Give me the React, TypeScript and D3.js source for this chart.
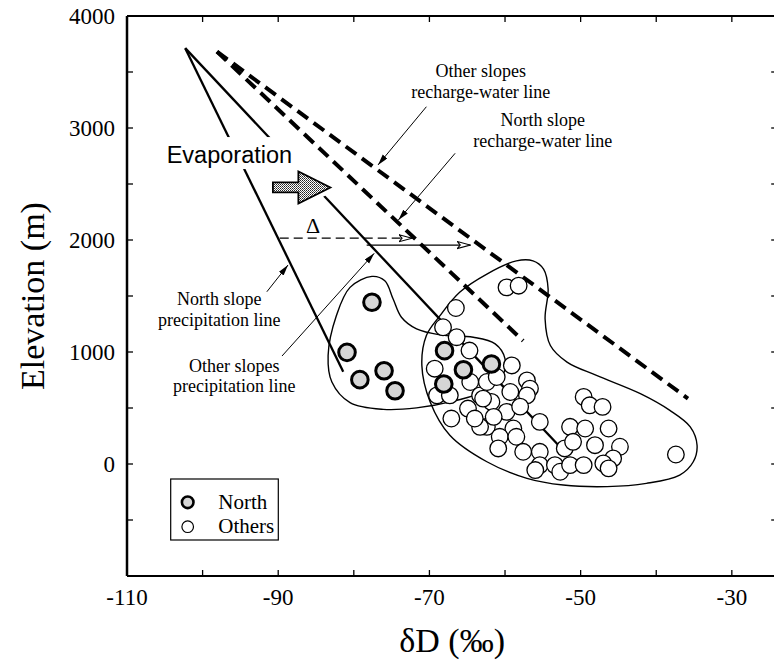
import React from 'react';
import * as d3 from 'd3';

const W = 774;
const H = 661;

// δD (‰), elevation (m)
const northPoints: [number, number][] = [
  [-77.6, 1444], [-80.9, 997], [-79.2, 753], [-76.0, 833], [-74.55, 654],
  [-68.0, 1012], [-65.5, 842], [-68.1, 714], [-61.8, 893],
];

const otherPoints: [number, number][] = [
  [-59.8, 1577], [-58.2, 1592], [-66.5, 1393], [-68.2, 1221], [-66.4, 1132],
  [-64.7, 1013], [-69.3, 851], [-59.1, 880], [-64.6, 732], [-69.0, 613],
  [-67.3, 613], [-63.3, 613], [-62.4, 732], [-61.1, 777], [-59.3, 643],
  [-57.1, 746], [-56.7, 673], [-64.9, 495], [-61.8, 554], [-59.8, 465],
  [-67.1, 406], [-62.4, 332], [-58.9, 317], [-55.4, 376], [-60.7, 243],
  [-58.5, 243], [-60.9, 139], [-57.6, 109], [-55.4, 109], [-55.4, -10],
  [-57.1, 613], [-62.9, 584], [-61.5, 421], [-53.4, -10], [-52.7, -69],
  [-52.1, 139], [-51.4, 332], [-51.0, 198], [-51.4, -10], [-49.6, -10],
  [-49.4, 317], [-48.1, 168], [-46.3, 317], [-49.6, 599], [-48.8, 524],
  [-47.1, 510], [-44.8, 154], [-45.7, 50], [-47.0, 5], [-46.3, -39],
  [-37.4, 85], [-63.3, 332], [-56.0, -54], [-58.0, 512], [-64.0, 406],
];

const northEnvelope: [number, number][] = [
  [-77.6, 1675], [-75.9, 1636], [-74.8, 1473], [-73.7, 1310], [-71.7, 1206],
  [-68.6, 1153], [-64.2, 1132], [-61.3, 1073], [-60.0, 939], [-60.4, 777],
  [-62.4, 657], [-66.4, 568], [-71.7, 501], [-76.1, 488], [-80.5, 548],
  [-82.9, 732], [-83.4, 969], [-82.3, 1325], [-80.5, 1577],
];

const otherEnvelope: [number, number][] = [
  [-58.5, 1814], [-56.3, 1814], [-54.9, 1740], [-54.3, 1562], [-54.7, 1295],
  [-54.0, 1058], [-51.8, 910], [-47.9, 791], [-42.1, 628], [-38.2, 479],
  [-35.5, 332], [-34.6, 168], [-35.1, 20], [-36.9, -99], [-41.3, -173],
  [-46.5, -202], [-52.3, -188], [-57.1, -128], [-62.4, 20], [-67.3, 257],
  [-69.9, 554], [-71.0, 880], [-70.4, 1147], [-68.6, 1325], [-66.0, 1533],
  [-62.4, 1696],
];

const northPrecipLine: [number, number][] = [[-102.3, 3713], [-81.4, 824]];
const otherPrecipLine: [number, number][] = [[-102.3, 3713], [-52.9, 165]];
const northRechargeLine: [number, number][] = [[-98.1, 3682], [-57.6, 1100]];
const otherRechargeLine: [number, number][] = [[-98.1, 3682], [-35.8, 584]];

const deltaDashed: [number, number][] = [[-89.8, 2016], [-72.3, 2016]];
const deltaSolid: [number, number][] = [[-78.3, 1955], [-64.6, 1955]];

const xTicks = [-110, -100, -90, -80, -70, -60, -50, -40, -30];
const xLabels = [-110, -90, -70, -50, -30];
const yTicks = [-1000, -500, 0, 500, 1000, 1500, 2000, 2500, 3000, 3500, 4000];
const yLabels = [0, 1000, 2000, 3000, 4000];

const SERIF = "'Liberation Serif', 'Times New Roman', Times, serif";
const SANS = "'Liberation Sans', Arial, Helvetica, sans-serif";
const serif = { fontFamily: SERIF };
const sans = { fontFamily: SANS };

export default function App() {
  const x = d3.scaleLinear().domain([-110, -24]).range([127, 777.2]);
  const y = d3.scaleLinear().domain([-1000, 4000]).range([576, 16]);
  const x0 = x(-110), x1 = x(-24), yTop = y(4000), yBot = y(-1000);

  const closed = d3
    .line<[number, number]>()
    .x((d) => x(d[0]))
    .y((d) => y(d[1]))
    .curve(d3.curveCatmullRomClosed.alpha(0.5));
  const straight = d3
    .line<[number, number]>()
    .x((d) => x(d[0]))
    .y((d) => y(d[1]));

  // fat arrow
  const ax0 = x(-90.7), ax1 = x(-83.1), ay = y(2469);
  const hx = ax1 - 32;
  const fatArrow = `M${ax0},${ay - 5}L${hx},${ay - 5}L${hx},${ay - 16}L${ax1},${ay}L${hx},${ay + 16}L${hx},${ay + 5}L${ax0},${ay + 5}Z`;

  const leaders: [number, number, number, number][] = [
    [-70.4, 3190, -76.8, 2670],
    [-66.6, 2774, -74.1, 2179],
    [-91.5, 1538, -88.7, 1777],
    [-89.5, 964, -77.3, 1881],
  ];

  const textBlocks: { v: number; e: number; lines: string[] }[] = [
    { v: -63.2, e: 3435, lines: ['Other slopes', 'recharge-water line'] },
    { v: -55.0, e: 2997, lines: ['North slope', 'recharge-water line'] },
    { v: -97.8, e: 1399, lines: ['North slope', 'precipitation line'] },
    { v: -95.8, e: 804, lines: ['Other slopes', 'precipitation line'] },
  ];

  return (
    <svg
      width={W}
      height={H}
      style={{ position: 'absolute', left: 0, top: 0, background: '#fff' }}
    >
      <defs>
        <pattern id="hatch" width="2" height="2" patternUnits="userSpaceOnUse">
          <rect width="2" height="2" fill="#fff" />
          <rect width="1" height="1" fill="#222" />
          <rect x="1" y="1" width="1" height="1" fill="#555" />
        </pattern>
        <marker id="head" markerUnits="userSpaceOnUse" markerWidth="12" markerHeight="8" refX="11" refY="3" orient="auto">
          <path d="M0,0 L11,3 L0,6 Z" fill="#000" />
        </marker>
        <marker id="openhead" markerUnits="userSpaceOnUse" markerWidth="14" markerHeight="10" refX="13" refY="4" orient="auto">
          <path d="M0,0.5 L13,4 L0,7.5 L3,4 Z" fill="#fff" stroke="#000" strokeWidth="1.1" />
        </marker>
      </defs>
      <rect width={W} height={H} fill="#fff" />

      {/* envelopes */}
      <path d={closed(northEnvelope) || ''} fill="none" stroke="#000" strokeWidth={1.4} />
      <path d={closed(otherEnvelope) || ''} fill="none" stroke="#000" strokeWidth={1.4} />

      {/* precipitation lines */}
      <path d={straight(northPrecipLine) || ''} stroke="#000" strokeWidth={2.3} fill="none" />
      <path d={straight(otherPrecipLine) || ''} stroke="#000" strokeWidth={2.3} fill="none" />

      {/* recharge lines */}
      <path d={straight(northRechargeLine) || ''} stroke="#000" strokeWidth={4} strokeDasharray="13 7" fill="none" />
      <path d={straight(otherRechargeLine) || ''} stroke="#000" strokeWidth={4} strokeDasharray="13 7" fill="none" />

      {/* Evaporation label and arrow, masking the lines */}
      <rect x={x(-104.75) - 3} y={y(2687) - 26} width={136} height={32} fill="#fff" />
      <text x={x(-104.75)} y={y(2687)} style={sans} fontSize={23.5} fill="#000">
        Evaporation
      </text>
      <path d={fatArrow} fill="#fff" stroke="#fff" strokeWidth={10} strokeLinejoin="round" />
      <path d={fatArrow} fill="url(#hatch)" stroke="#000" strokeWidth={1.8} strokeLinejoin="miter" />

      {/* Δ arrows */}
      <line
        x1={x(deltaDashed[0][0])} y1={y(deltaDashed[0][1])}
        x2={x(deltaDashed[1][0])} y2={y(deltaDashed[1][1])}
        stroke="#000" strokeWidth={1.3} strokeDasharray="9 5" markerEnd="url(#openhead)"
      />
      <line
        x1={x(deltaSolid[0][0])} y1={y(deltaSolid[0][1])}
        x2={x(deltaSolid[1][0])} y2={y(deltaSolid[1][1])}
        stroke="#000" strokeWidth={1.3} markerEnd="url(#openhead)"
      />
      <text x={x(-85.4)} y={y(2062)} style={serif} fontSize={22} textAnchor="middle">Δ</text>

      {/* leaders */}
      {leaders.map((l, i) => (
        <line key={i} x1={x(l[0])} y1={y(l[1])} x2={x(l[2])} y2={y(l[3])} stroke="#000" strokeWidth={1} markerEnd="url(#head)" />
      ))}

      {/* annotation text */}
      {textBlocks.map((b, i) => (
        <text key={i} x={x(b.v)} y={y(b.e) - 2} style={serif} fontSize={18} textAnchor="middle" fill="#000">
          {b.lines.map((ln, j) => (
            <tspan key={j} x={x(b.v)} dy={j === 0 ? 0 : 20.5}>{ln}</tspan>
          ))}
        </text>
      ))}

      {/* points */}
      {otherPoints.map((p, i) => (
        <circle key={'o' + i} cx={x(p[0])} cy={y(p[1])} r={8.3} fill="#fff" stroke="#000" strokeWidth={1.3} />
      ))}
      {northPoints.map((p, i) => (
        <circle key={'n' + i} cx={x(p[0])} cy={y(p[1])} r={8.3} fill="#d6d6d6" stroke="#000" strokeWidth={3} />
      ))}

      {/* legend */}
      <rect x={170.7} y={479} width={107.6} height={61} fill="#fff" stroke="#000" strokeWidth={1.2} />
      <circle cx={187.7} cy={502.3} r={5.8} fill="#d6d6d6" stroke="#000" strokeWidth={2.6} />
      <circle cx={187.7} cy={526.7} r={5.8} fill="#fff" stroke="#000" strokeWidth={1.2} />
      <text x={218.3} y={509} style={serif} fontSize={21}>North</text>
      <text x={218.3} y={533} style={serif} fontSize={21}>Others</text>

      {/* frame */}
      <line x1={x0} y1={yTop} x2={x0} y2={yBot} stroke="#000" strokeWidth={2.5} />
      <line x1={x0} y1={yBot} x2={x1} y2={yBot} stroke="#000" strokeWidth={2.2} />
      <line x1={x0} y1={yTop} x2={x1} y2={yTop} stroke="#000" strokeWidth={2.2} />
      <line x1={x1} y1={yTop} x2={x1} y2={yBot} stroke="#000" strokeWidth={2.2} />

      {/* ticks */}
      {xTicks.map((t) => (
        <g key={'xt' + t}>
          <line x1={x(t)} x2={x(t)} y1={yBot} y2={yBot - 6} stroke="#000" strokeWidth={1.3} />
          <line x1={x(t)} x2={x(t)} y1={yTop} y2={yTop + 6} stroke="#000" strokeWidth={1.3} />
        </g>
      ))}
      {yTicks.map((t) => (
        <g key={'yt' + t}>
          <line x1={x0} x2={x0 + 6} y1={y(t)} y2={y(t)} stroke="#000" strokeWidth={1.3} />
          <line x1={x1} x2={x1 - 6} y1={y(t)} y2={y(t)} stroke="#000" strokeWidth={1.3} />
        </g>
      ))}
      {xLabels.map((t) => (
        <text key={'xl' + t} x={x(t)} y={yBot + 29} style={serif} fontSize={23} textAnchor="middle">
          {t}
        </text>
      ))}
      {yLabels.map((t) => (
        <text key={'yl' + t} x={x0 - 12} y={y(t)} dy="0.35em" style={serif} fontSize={23} textAnchor="end">
          {t}
        </text>
      ))}

      {/* axis titles */}
      <text x={(x0 + x1) / 2} y={652} style={serif} fontSize={34} textAnchor="middle">
        δD (‰)
      </text>
      <text
        transform={`translate(44, ${(yTop + yBot) / 2}) rotate(-90)`}
        style={serif}
        fontSize={34}
        textAnchor="middle"
      >
        Elevation (m)
      </text>
    </svg>
  );
}
